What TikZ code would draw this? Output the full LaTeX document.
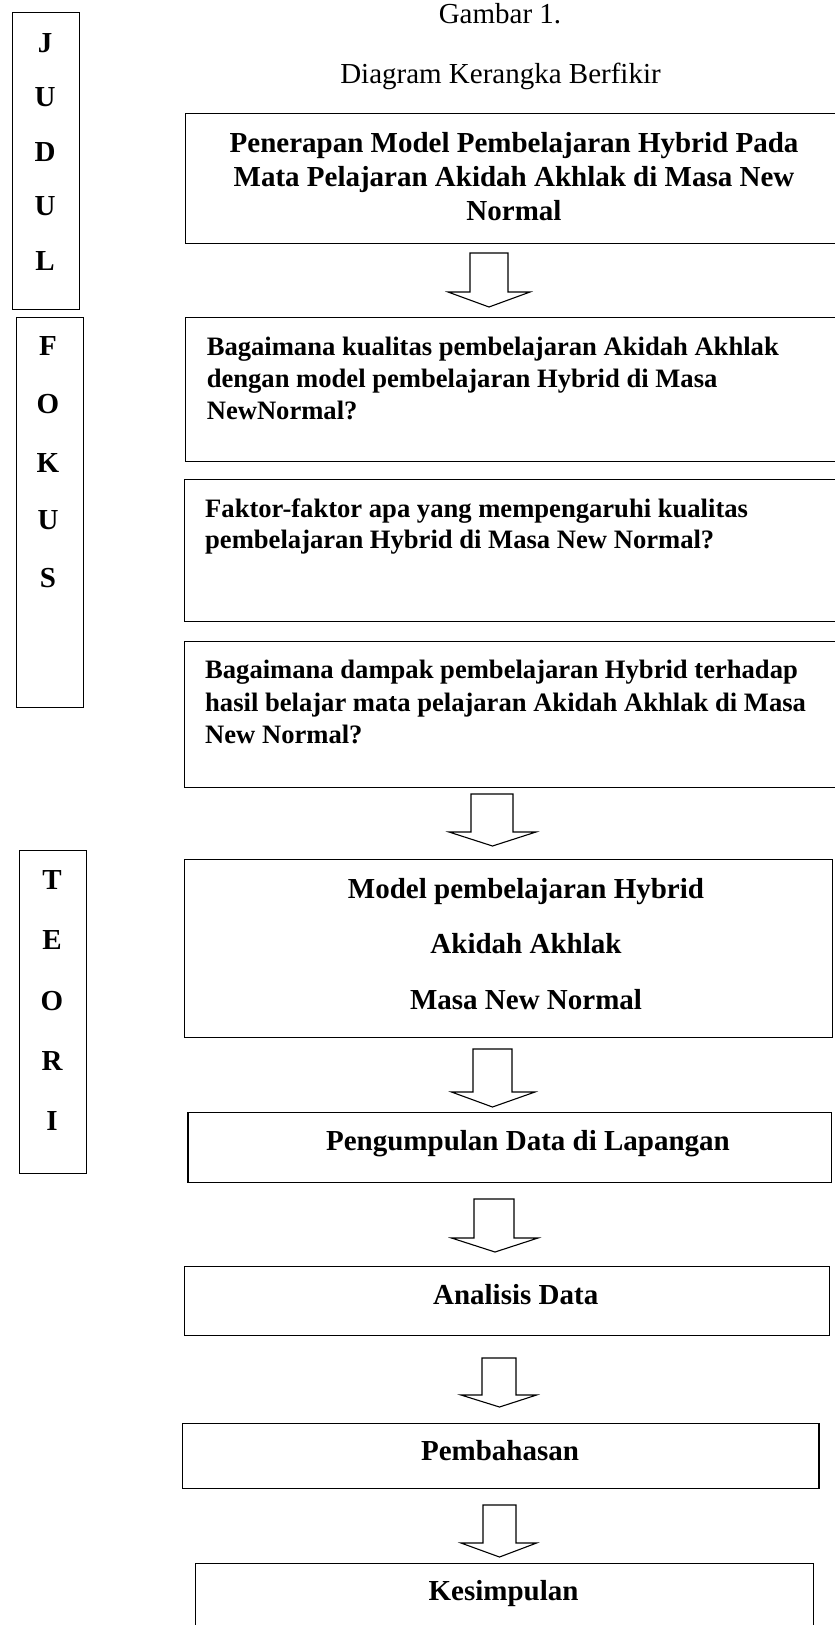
\documentclass[tikz,border=0pt]{standalone}
\usepackage{fontspec}
\setmainfont{Liberation Serif}
\newcommand\blockarr[8]{%
  \draw[barrow] (#1,#3) -- (#1,#4) -- (#5,#4) -- (#8,#7) -- (#6,#4) -- (#2,#4) -- (#2,#3) -- cycle;}
\begin{document}
\begin{tikzpicture}[x=1pt,y=-1pt,
  box/.style={draw, line width=1.4pt, inner sep=0pt, anchor=north west},
  barrow/.style={draw, line width=1.1pt, line join=miter, fill=white},
  bt/.style={font=\fontsize{29}{34}\selectfont\bfseries, inner sep=0pt, anchor=base},
  qt/.style={font=\fontsize{26.6}{32}\selectfont\bfseries, inner sep=0pt, anchor=base west},
  captext/.style={font=\fontsize{29}{34}\selectfont, inner sep=0pt, anchor=base},
  lt/.style={font=\fontsize{29}{34}\selectfont\bfseries, inner sep=0pt, anchor=base}]
\useasboundingbox (0,0) rectangle (835,1625);
\clip (0,0) rectangle (835,1625);

% captions
\node[captext] (g1) at (500,23) {Gambar 1.};
\node[captext] (g2) at (500.5,83) {Diagram Kerangka Berfikir};

% side boxes
\node[box, minimum width=67pt, minimum height=297pt] (judul) at (12,12) {};
\node[lt] (j1) at (45,52) {J};
\node[lt] (j2) at (45,106.5) {U};
\node[lt] (j3) at (45,161) {D};
\node[lt] (j4) at (45,215.5) {U};
\node[lt] (j5) at (45,270) {L};

\node[box, minimum width=66.5pt, minimum height=390pt] (fokus) at (16,317) {};
\node[lt] (f1) at (48,355) {F};
\node[lt] (f2) at (48,413) {O};
\node[lt] (f3) at (48,472) {K};
\node[lt] (f4) at (48,529) {U};
\node[lt] (f5) at (48,587) {S};

\node[box, minimum width=67.4pt, minimum height=323pt] (teori) at (18.6,850) {};
\node[lt] (e1) at (52,889) {T};
\node[lt] (e2) at (52,949) {E};
\node[lt] (e3) at (52,1010) {O};
\node[lt] (e4) at (52,1070) {R};
\node[lt] (e5) at (52,1130) {I};

% main boxes
\node[box, minimum width=660pt, minimum height=130pt] (b1) at (185,113) {};
\node[bt] (t1a) at (514,152) {Penerapan Model Pembelajaran Hybrid Pada};
\node[bt] (t1b) at (514,186) {Mata Pelajaran Akidah Akhlak di Masa New};
\node[bt] (t1c) at (514,220) {Normal};

\node[box, minimum width=660pt, minimum height=144pt] (b2) at (185,317) {};
\node[qt] (t2a) at (206.6,355) {Bagaimana kualitas pembelajaran Akidah Akhlak};
\node[qt] (t2b) at (206.6,387) {dengan model pembelajaran Hybrid di Masa};
\node[qt] (t2c) at (206.6,419) {NewNormal?};

\node[box, minimum width=660pt, minimum height=142pt] (b3) at (184,479) {};
\node[qt] (t3a) at (205,517) {Faktor-faktor apa yang mempengaruhi kualitas};
\node[qt] (t3b) at (205,548.5) {pembelajaran Hybrid di Masa New Normal?};

\node[box, minimum width=660pt, minimum height=146pt] (b4) at (184,641) {};
\node[qt] (t4a) at (205,678) {Bagaimana dampak pembelajaran Hybrid terhadap};
\node[qt] (t4b) at (205,711) {hasil belajar mata pelajaran Akidah Akhlak di Masa};
\node[qt] (t4c) at (205,743) {New Normal?};

\node[box, minimum width=648pt, minimum height=178pt] (b5) at (184,859) {};
\node[bt] (t5a) at (526,898) {Model pembelajaran Hybrid};
\node[bt] (t5b) at (526,953) {Akidah Akhlak};
\node[bt] (t5c) at (526,1009) {Masa New Normal};

\node[box, minimum width=643.2pt, minimum height=70pt] (b6) at (187.4,1112) {};
\node[bt] (t6) at (528,1150) {Pengumpulan Data di Lapangan};

\node[box, minimum width=645.3pt, minimum height=69pt] (b7) at (183.7,1266) {};
\node[bt] (t7) at (515.7,1304.3) {Analisis Data};

\node[box, minimum width=636.9pt, minimum height=65pt] (b8) at (181.5,1423) {};
\node[bt] (t8) at (500,1460.7) {Pembahasan};

\node[box, minimum width=618.1pt, minimum height=80pt] (b9) at (194.6,1563) {};
\node[bt] (t9) at (503.6,1600.7) {Kesimpulan};

% block arrows
\blockarr{470}{508}{253}{292}{448}{530}{307}{489}
\blockarr{471}{513}{794}{832}{449}{536}{846}{492.5}
\blockarr{473}{512}{1049}{1092}{451.5}{535}{1107}{492.5}
\blockarr{474}{514}{1199}{1238}{451.5}{538}{1252}{495}
\blockarr{482}{516}{1358}{1395}{461}{536.6}{1407}{499.5}
\blockarr{483}{516}{1505}{1543}{461}{536.6}{1557}{499.5}
\end{tikzpicture}
\end{document}
